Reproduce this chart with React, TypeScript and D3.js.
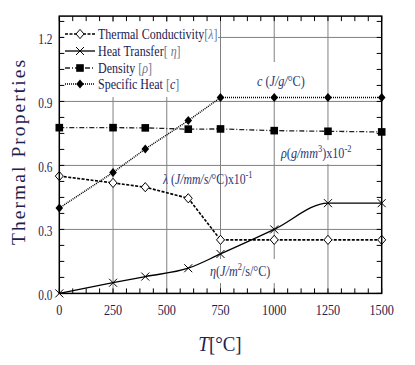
import React from 'react';
import * as d3 from 'd3';

const temps = [0, 250, 400, 600, 750, 1000, 1250, 1500];
const lambdaVals = [0.55, 0.518, 0.498, 0.446, 0.251, 0.251, 0.251, 0.251];
const etaVals = [0, 0.05, 0.079, 0.118, 0.185, 0.3, 0.423, 0.423];
const rhoVals = [0.777, 0.777, 0.776, 0.77, 0.771, 0.763, 0.76, 0.757];
const cVals = [0.4, 0.567, 0.677, 0.81, 0.918, 0.918, 0.918, 0.918];
const xTicks = [0, 250, 500, 750, 1000, 1250, 1500];
const yTicks = [0, 0.3, 0.6, 0.9, 1.2];
const yTickLabels = ['0.0', '0.3', '0.6', '0.9', '1.2'];

const FONT = '"Liberation Serif", serif';
const TXT = '#1c2150';
const LBL = '#2a3774';
const BRK = '#6a7898';

function CT({ x, y, anchor = 'start', size = 14, sx = 0.84, fill = TXT, children }: any) {
  return (
    <g transform={`translate(${x},${y}) scale(${sx},1)`}>
      <text x={0} y={0} textAnchor={anchor} style={{ fontFamily: FONT, fontSize: size }} fill={fill}>
        {children}
      </text>
    </g>
  );
}

const diamond = (cx: number, cy: number, w = 4, h = 4.6) =>
  `M${cx},${cy - h}L${cx + w},${cy}L${cx},${cy + h}L${cx - w},${cy}Z`;
const cross = (cx: number, cy: number, r = 4) =>
  `M${cx - r},${cy - r}L${cx + r},${cy + r}M${cx - r},${cy + r}L${cx + r},${cy - r}`;

export default function App() {
  const x = d3.scaleLinear().domain([0, 1500]).range([59.3, 381.7]);
  const y = d3.scaleLinear().domain([0, 1.3]).range([293.4, 16.1]);
  const x0 = x(0), x1 = x(1500), y0 = y(0), y1 = y(1.3);
  const minorX = d3.range(0, 1500.01, 62.5);
  const minorY = d3.range(0, 1.3, 0.075);

  const lineStraight = (vals: number[]) =>
    d3.line<number>().x((_, i) => x(temps[i])).y((d) => y(d))(vals) || '';
  const lineSmooth = (vals: number[]) =>
    d3.line<number>().x((_, i) => x(temps[i])).y((d) => y(d)).curve(d3.curveMonotoneX)(vals) || '';

  const styles = {
    lambda: { stroke: '#000', strokeWidth: 1.6, strokeDasharray: '3,1.5', fill: 'none' },
    eta: { stroke: '#000', strokeWidth: 1.3, fill: 'none' },
    rho: { stroke: '#222', strokeWidth: 1.3, strokeDasharray: '5,2,1,2', fill: 'none' },
    c: { stroke: '#000', strokeWidth: 1.5, strokeDasharray: '1,1', fill: 'none' },
  };

  const legendRows = [
    { key: 'lambda', yy: 34 },
    { key: 'eta', yy: 51 },
    { key: 'rho', yy: 68 },
    { key: 'c', yy: 84 },
  ];

  const marker = (key: string, cx: number, cy: number, k: any) => {
    if (key === 'lambda') return <path key={k} d={diamond(cx, cy)} fill="#fff" stroke="#000" strokeWidth={1} />;
    if (key === 'eta') return <path key={k} d={cross(cx, cy)} stroke="#000" strokeWidth={1} fill="none" />;
    if (key === 'rho') return <rect key={k} x={cx - 3.8} y={cy - 3.8} width={7.6} height={7.6} fill="#000" />;
    return <path key={k} d={diamond(cx, cy, 3.8, 4.5)} fill="#000" />;
  };

  return (
    <svg width={415} height={365} style={{ position: 'absolute', left: 0, top: 0, background: '#fff' }}>
      <rect width={415} height={365} fill="#fff" />
      {/* grid */}
      {xTicks.slice(1, -1).map((t) => (
        <line key={'gx' + t} x1={x(t)} x2={x(t)} y1={y0} y2={y1} stroke="#808080" strokeWidth={1} />
      ))}
      {yTicks.slice(1).map((t) => (
        <line key={'gy' + t} x1={x0} x2={x1} y1={y(t)} y2={y(t)} stroke="#808080" strokeWidth={1} />
      ))}
      {/* label backgrounds */}
      <rect x={64} y={22} width={154} height={75} fill="#fff" />
      <rect x={255} y={62} width={58} height={34} fill="#fff" />
      <rect x={279} y={140} width={89} height={24} fill="#fff" />
      <rect x={207} y={259} width={74} height={24} fill="#fff" />

      {/* ticks */}
      {minorX.map((t) => (
        <g key={'tx' + t}>
          <line x1={x(t)} x2={x(t)} y1={y0} y2={y0 - 5} stroke="#000" strokeWidth={1} />
          <line x1={x(t)} x2={x(t)} y1={y1} y2={y1 + 5} stroke="#000" strokeWidth={1} />
        </g>
      ))}
      {minorY.map((t) => (
        <g key={'ty' + t}>
          <line x1={x0} x2={x0 + 5} y1={y(t)} y2={y(t)} stroke="#000" strokeWidth={1} />
          <line x1={x1} x2={x1 - 5} y1={y(t)} y2={y(t)} stroke="#000" strokeWidth={1} />
        </g>
      ))}

      {/* series lines */}
      <path d={lineStraight(rhoVals)} {...styles.rho} />
      <path d={lineStraight(cVals)} {...styles.c} />
      <path d={lineStraight(lambdaVals)} {...styles.lambda} />
      <path d={lineSmooth(etaVals)} {...styles.eta} />

      {/* markers */}
      {rhoVals.map((v, i) => marker('rho', x(temps[i]), y(v), 'mr' + i))}
      {cVals.map((v, i) => marker('c', x(temps[i]), y(v), 'mc' + i))}
      {lambdaVals.map((v, i) => marker('lambda', x(temps[i]), y(v), 'ml' + i))}
      {etaVals.map((v, i) => marker('eta', x(temps[i]), y(v), 'me' + i))}

      {/* frame */}
      <rect x={x0} y={y1} width={x1 - x0} height={y0 - y1} fill="none" stroke="#000" strokeWidth={1.5} />

      {/* legend */}
      {legendRows.map((r) => (
        <g key={'lg' + r.key}>
          <line x1={65} x2={95} y1={r.yy} y2={r.yy} {...(styles as any)[r.key]} />
          {marker(r.key, 80, r.yy, 'lm' + r.key)}
        </g>
      ))}
      <CT x={98} y={39} size={15} sx={0.8}>
        Thermal Conductivity<tspan fill={BRK}>[</tspan><tspan fill={BRK} fontStyle="italic">λ</tspan><tspan fill={BRK}>]</tspan>
      </CT>
      <CT x={98} y={56} size={15} sx={0.8}>
        Heat Transfer<tspan fill={BRK}>[ </tspan><tspan fill={BRK} fontStyle="italic">η</tspan><tspan fill={BRK}>]</tspan>
      </CT>
      <CT x={98} y={73} size={15} sx={0.8}>
        Density <tspan fill={BRK}>[</tspan><tspan fill={BRK} fontStyle="italic">ρ</tspan><tspan fill={BRK}>]</tspan>
      </CT>
      <CT x={98} y={89} size={15} sx={0.8}>
        Specific Heat <tspan fill={BRK}>[</tspan><tspan fill={TXT} fontStyle="italic">c</tspan><tspan fill={BRK}>]</tspan>
      </CT>

      {/* annotations */}
      <CT x={257} y={86} size={14.5} fill={LBL}>
        <tspan fontStyle="italic">c</tspan> (<tspan fontStyle="italic">J/g/</tspan>°C)
      </CT>
      <CT x={281} y={158} size={14.5} fill={LBL}>
        <tspan fontStyle="italic">ρ</tspan>(<tspan fontStyle="italic">g/mm</tspan>
        <tspan fontSize={10} dy={-6}>3</tspan>
        <tspan dy={6}>)x10</tspan>
        <tspan fontSize={10} dy={-6}>-2</tspan>
      </CT>
      <CT x={163} y={184} size={14} fill={LBL}>
        <tspan fontStyle="italic">λ</tspan> (<tspan fontStyle="italic">J/mm/s/</tspan>°C)x10
        <tspan fontSize={10} dy={-6}>-1</tspan>
      </CT>
      <CT x={210} y={276} size={14.5} fill={LBL}>
        <tspan fontStyle="italic">η</tspan>(<tspan fontStyle="italic">J/m</tspan>
        <tspan fontSize={10} dy={-6}>2</tspan>
        <tspan dy={6}>/s/°C)</tspan>
      </CT>

      {/* tick labels */}
      {xTicks.map((t) => (
        <CT key={'xl' + t} x={x(t)} y={315} anchor="middle" size={14.5}>
          {String(t)}
        </CT>
      ))}
      {yTicks.map((t, i) => (
        <CT key={'yl' + t} x={52.5} y={y(t) + 6.5} anchor="end" size={14.5} sx={0.78}>
          {yTickLabels[i]}
        </CT>
      ))}

      {/* axis titles */}
      <CT x={220} y={351} anchor="middle" size={22} sx={0.86}>
        <tspan fontStyle="italic">T</tspan>[°C]
      </CT>
      <text
        transform={`translate(25,${152.5}) rotate(-90)`}
        textAnchor="middle"
        style={{ fontFamily: FONT, fontSize: 19.5 }}
        fill={TXT}
        textLength={185}
        lengthAdjust="spacing"
      >
        Thermal Properties
      </text>
    </svg>
  );
}
